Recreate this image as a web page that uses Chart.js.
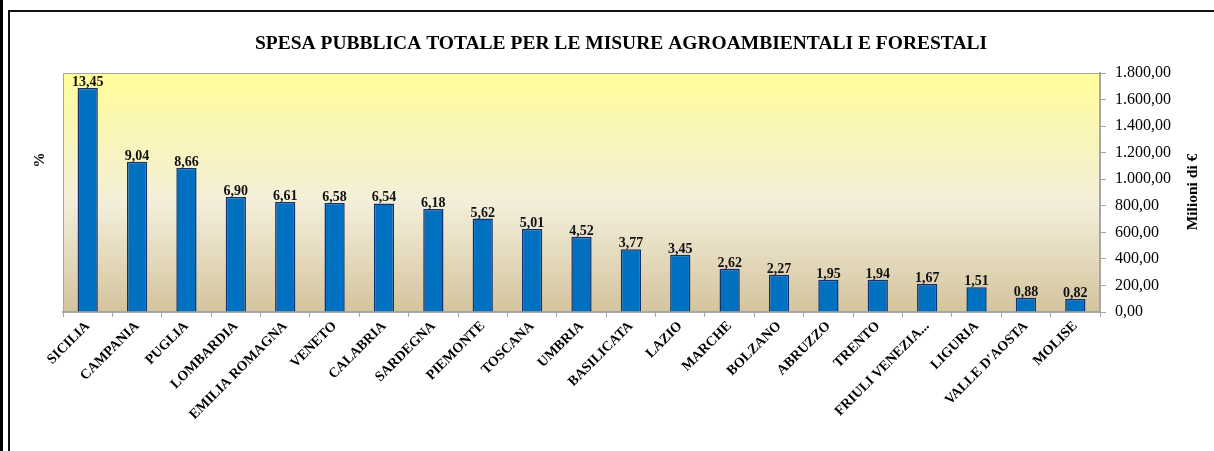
<!DOCTYPE html>
<html>
<head>
<meta charset="utf-8">
<script src="https://cdn.jsdelivr.net/npm/chart.js@4.4.1/dist/chart.umd.min.js"></script>
<style>
  html, body { margin: 0; padding: 0; background: #fff; }
  #wrap { position: relative; width: 1214px; height: 451px; overflow: hidden; }
  #strip { position: absolute; left: 0; top: 0; width: 3px; height: 451px; background: #000; }
  #frame { position: absolute; left: 8px; top: 10px; width: 1220px; height: 460px;
           border-left: 2px solid #111; border-top: 2px solid #111; }
  canvas { position: absolute; left: 0; top: 0; }
</style>
</head>
<body>
<div id="wrap">
  <div id="strip"></div>
  <div id="frame"></div>
  <canvas id="speseChart" width="1214" height="451"></canvas>
</div>
<script>
const regions = [
  'SICILIA', 'CAMPANIA', 'PUGLIA', 'LOMBARDIA', 'EMILIA ROMAGNA', 'VENETO',
  'CALABRIA', 'SARDEGNA', 'PIEMONTE', 'TOSCANA', 'UMBRIA', 'BASILICATA',
  'LAZIO', 'MARCHE', 'BOLZANO', 'ABRUZZO', 'TRENTO', 'FRIULI VENEZIA...',
  'LIGURIA', "VALLE D'AOSTA", 'MOLISE'
]
// spesa in milioni di euro
const spesaMilioni = [
  1687, 1131, 1085, 866, 828, 820, 818, 775, 704, 626,
  566, 472, 432, 326, 280, 242, 242, 210, 187, 108, 98
]
// percentuale sul totale (etichette delle barre)
const quotaPct = [
  '13,45', '9,04', '8,66', '6,90', '6,61', '6,58', '6,54', '6,18', '5,62', '5,01',
  '4,52', '3,77', '3,45', '2,62', '2,27', '1,95', '1,94', '1,67', '1,51', '0,88', '0,82'
]
const yTicks = [0, 200, 400, 600, 800, 1000, 1200, 1400, 1600, 1800]

const SERIF = "'Liberation Serif', 'DejaVu Serif', serif"

function formatIt(value) {
  const int = Math.round(value).toString().replace(/\B(?=(\d{3})+(?!\d))/g, '.')
  return int + ',00'
}

const decorPlugin = {
  id: 'decor',
  beforeDraw(chart) {
    const { ctx, chartArea: a } = chart
    const g = ctx.createLinearGradient(0, a.top, 0, a.bottom)
    g.addColorStop(0, '#FFFD9A')
    g.addColorStop(0.55, '#F3EEDA')
    g.addColorStop(1, '#D4C49E')
    ctx.save()
    ctx.fillStyle = g
    ctx.fillRect(a.left, a.top, a.right - a.left, a.bottom - a.top)
    ctx.strokeStyle = '#A6A6A6'
    ctx.lineWidth = 1
    ctx.beginPath()
    ctx.moveTo(a.left + 0.5, a.bottom)
    ctx.lineTo(a.left + 0.5, a.top + 0.5)
    ctx.lineTo(a.right, a.top + 0.5)
    ctx.stroke()
    ctx.restore()
  },
  afterDraw(chart) {
    const { ctx } = chart
    ctx.save()
    ctx.fillStyle = '#000'
    ctx.textAlign = 'center'
    ctx.textBaseline = 'middle'
    ctx.font = 'bold 19.5px ' + SERIF
    ctx.fillText('SPESA PUBBLICA TOTALE PER LE MISURE AGROAMBIENTALI E FORESTALI', 621, 44)

    ctx.font = 'bold 15px ' + SERIF
    ctx.translate(40, 160)
    ctx.rotate(-Math.PI / 2)
    ctx.fillText('%', 0, 0)
    ctx.restore()

    ctx.save()
    ctx.fillStyle = '#000'
    ctx.font = 'bold 15.5px ' + SERIF
    ctx.textAlign = 'center'
    ctx.textBaseline = 'middle'
    ctx.translate(1193, 192)
    ctx.rotate(-Math.PI / 2)
    ctx.fillText('Milioni di €', 0, 0)
    ctx.restore()
  },
  afterDatasetsDraw(chart) {
    const { ctx } = chart
    const meta = chart.getDatasetMeta(0)
    ctx.save()
    ctx.fillStyle = '#111'
    ctx.font = 'bold 14px ' + SERIF
    ctx.textAlign = 'center'
    ctx.textBaseline = 'alphabetic'
    meta.data.forEach((bar, i) => {
      ctx.fillText(quotaPct[i], bar.x, bar.y - 2)
    })
    ctx.restore()
  }
}

new Chart(document.getElementById('speseChart'), {
  type: 'bar',
  data: {
    labels: regions,
    datasets: [
      {
        label: 'Spesa pubblica',
        data: spesaMilioni,
        yAxisID: 'y',
        backgroundColor: '#0070C0',
        borderColor: '#14306E',
        borderWidth: 1.5,
        categoryPercentage: 1,
        barPercentage: 0.41
      }
    ]
  },
  options: {
    responsive: false,
    animation: false,
    layout: { padding: { left: 63, top: 73, right: 0, bottom: 0 } },
    plugins: {
      legend: { display: false },
      title: { display: false },
      tooltip: { enabled: false }
    },
    scales: {
      x: {
        offset: true,
        grid: {
          offset: true,
          drawOnChartArea: false,
          drawTicks: true,
          tickLength: 5,
          color: '#A6A6A6'
        },
        border: { color: '#A6A6A6', width: 2 },
        ticks: {
          autoSkip: false,
          maxRotation: 45,
          minRotation: 45,
          padding: 1,
          color: '#000',
          font: { family: SERIF, size: 14, weight: 'bold' }
        },
        afterFit(scale) {
          scale.height = 139
        }
      },
      y: {
        position: 'right',
        min: 0,
        max: 1800,
        afterBuildTicks(scale) {
          scale.ticks = yTicks.map((v) => ({ value: v }))
        },
        grid: {
          drawOnChartArea: false,
          drawTicks: true,
          tickLength: 6,
          color: '#A6A6A6'
        },
        border: { color: '#A6A6A6', width: 2 },
        ticks: {
          padding: 9,
          color: '#000',
          font: { family: SERIF, size: 16 },
          callback: (value) => formatIt(value)
        },
        afterFit(scale) {
          scale.width = 114
        }
      }
    }
  },
  plugins: [decorPlugin]
})
</script>
</body>
</html>
